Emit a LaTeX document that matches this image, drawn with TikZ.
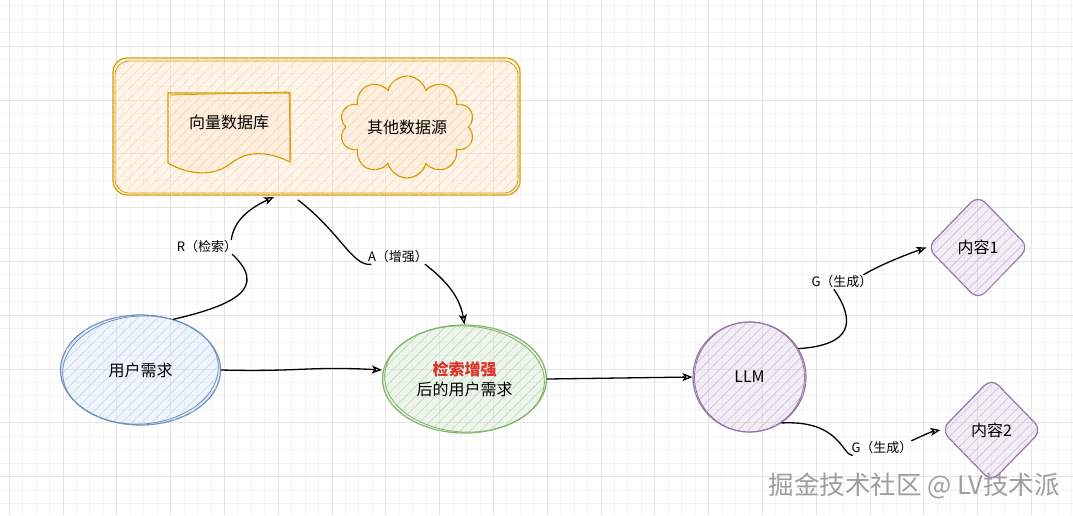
\documentclass[tikz,border=0pt]{standalone}
\usepackage{fontspec}
\setmainfont{Noto Sans CJK SC}
\usetikzlibrary{shapes.geometric,shapes.symbols,arrows.meta,patterns.meta}
\definecolor{orangeline}{HTML}{D79B00}
\definecolor{orangefill}{HTML}{FFE6CC}
\definecolor{orangehatch}{HTML}{F6DCBA}
\definecolor{blueline}{HTML}{6C8EBF}
\definecolor{bluefill}{HTML}{DAE8FC}
\definecolor{bluehatch}{HTML}{C3D5F0}
\definecolor{greenline}{HTML}{82B366}
\definecolor{greenfill}{HTML}{D5E8D4}
\definecolor{greenhatch}{HTML}{BBD9B3}
\definecolor{purpleline}{HTML}{9673A6}
\definecolor{purplefill}{HTML}{E1D5E7}
\definecolor{purplehatch}{HTML}{CDBBD9}
\definecolor{accentred}{HTML}{DB3328}
\begin{document}
\begin{tikzpicture}
[
    x=1pt, y=-1pt,
    every node/.style={font=\fontsize{16}{20}\selectfont},
    gridminor/.style={draw=black!5, line width=0.5pt},
    gridmajor/.style={draw=black!11, line width=0.6pt},
    sketch/.style 2 args={draw=#1, line width=1.2pt, fill=#2, fill opacity=0.4, text opacity=1},
    hatch/.style={postaction={fill opacity=1, pattern={Lines[angle=45,distance=7pt,line width=0.6pt]}, pattern color=#1}},
    redraw/.style={draw=#1, line width=0.8pt},
    edgelabel/.style={font=\fontsize{13}{15}\selectfont, inner sep=1pt},
    link/.style={line width=1.3pt, line cap=round},
    arr/.style={link, -{Stealth[open,length=10pt,width=8pt,inset=2.5pt]}},
    watermark/.style={font=\fontsize{25.5}{27}\selectfont, text=black!38}
]
    \useasboundingbox (0,0) rectangle (1073,515);
    \fill[white] (0,0) rectangle (1073,515);
    \foreach \k in {0,...,79}
        \draw[gridminor] ({9.0+13.45*\k},0) -- ({9.0+13.45*\k},515);
    \foreach \k in {0,...,38}
        \draw[gridminor] (0,{5.65+13.45*\k}) -- (1073,{5.65+13.45*\k});
    \foreach \k in {0,...,19}
        \draw[gridmajor] ({9.0+53.8*\k},0) -- ({9.0+53.8*\k},515);
    \foreach \k in {0,...,9}
        \draw[gridmajor] (0,{46+53.8*\k}) -- (1073,{46+53.8*\k});

    \node [sketch={orangeline}{orangefill}, hatch=orangehatch, rounded corners=14,
           minimum width=407, minimum height=137] (kb) at (316.5,126.5) {};
    \draw [redraw=orangeline, rounded corners=14] (115,61) rectangle (518,193);

    \path [sketch={orangeline}{orangefill}, hatch=orangehatch]
        (168,93) -- (290,93) -- (290,162)
        .. controls (266,150) and (246,151) .. (230,164)
        .. controls (214,176) and (190,176) .. (168,163) -- cycle;
    \draw [redraw=orangeline] (170,95) -- (289,92) -- (291,160);
    \node (vecdb) at (229,122) {向量数据库};

    \node [cloud, cloud puffs=10, aspect=1.6, minimum width=134, minimum height=90,
           sketch={orangeline}{orangefill}, hatch=orangehatch] (other) at (407,127) {其他数据源};

    \node [ellipse, minimum width=160, minimum height=110,
           sketch={blueline}{bluefill}, hatch=bluehatch] (user) at (140.5,370) {用户需求};
    \draw [redraw=blueline] (user.center) ellipse [x radius=78, y radius=54, rotate=4];

    \node [ellipse, minimum width=164, minimum height=108, align=center,
           sketch={greenline}{greenfill}, hatch=greenhatch] (enhanced) at (464.5,379)
        {\textcolor{accentred}{\bfseries 检索增强}\\后的用户需求};
    \draw [redraw=greenline] (enhanced.center) ellipse [x radius=80, y radius=53, rotate=-3];

    \node [ellipse, minimum width=113, minimum height=110,
           sketch={purpleline}{purplefill}, hatch=purplehatch] (llm) at (749.5,377) {LLM};
    \draw [redraw=purpleline] (llm.center) ellipse [x radius=55, y radius=55, rotate=8];

    \node [diamond, minimum width=102, minimum height=105, rounded corners=10,
           sketch={purpleline}{purplefill}, hatch=purplehatch] (out1) at (978,247.5) {内容1};
    \node [diamond, minimum width=101, minimum height=104, rounded corners=10,
           sketch={purpleline}{purplefill}, hatch=purplehatch] (out2) at (991.5,430) {内容2};

    \coordinate (kbin) at (274,197);
    \coordinate (kbout) at (298,200);

    \node [edgelabel] (rlab) at (207,247) {R（检索）};
    \node [edgelabel] (alab) at (398,257) {A（增强）};
    \node [edgelabel] (glab1) at (842,282) {G（生成）};
    \node [edgelabel] (glab2) at (882,448) {G（生成）};

    \draw [link] (user.57) .. controls (235,305) and (268,288) .. ([xshift=-6pt]rlab.south east);
    \draw [arr] ([xshift=-7pt]rlab.north east) .. controls (234,220) and (250,208) .. (kbin);

    \draw [link] (kbout) .. controls (340,232) and (352,266) .. ([xshift=4pt]alab.south west);
    \draw [arr] ([xshift=-4pt]alab.south east) .. controls (448,282) and (460,298) .. (enhanced.north);

    \draw [arr] (user.east) .. controls (300,372) and (310,366) .. (user.east -| enhanced.west);
    \draw [arr] (enhanced.east) -- (llm.west);

    \draw [link] (llm.30) .. controls (852,345) and (856,322) .. ([xshift=-8pt]glab1.south);
    \draw [arr] ([xshift=-10pt]glab1.north east) .. controls (880,265) and (905,255) .. (out1.west);

    \draw [link] (llm.-55) .. controls (840,420) and (842,455) .. ([xshift=2pt]glab2.south west);
    \draw [arr] ([xshift=-2pt]glab2.north east) .. controls (920,437) and (930,432) .. (out2.west);

    \node [watermark, anchor=west] (mark) at (765,486) {掘金技术社区 @ LV技术派};
\end{tikzpicture}
\end{document}
